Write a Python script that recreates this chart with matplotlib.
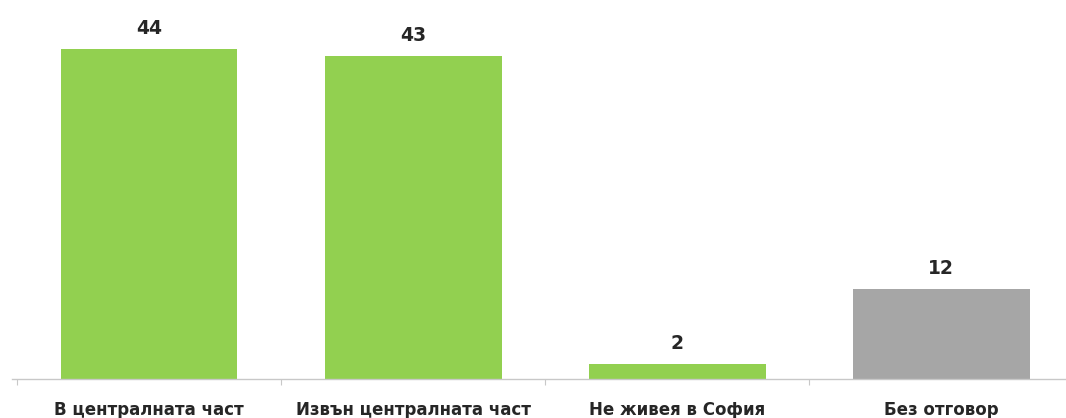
import matplotlib
matplotlib.use("Agg")
import matplotlib.pyplot as plt

categories = ["В централната част", "Извън централната част", "Не живея в София", "Без отговор"]
values = [44, 43, 2, 12]
colors = ["#92D050", "#92D050", "#92D050", "#A6A6A6"]

plt.rcParams['font.family'] = ['DejaVu Sans']

fig = plt.figure(figsize=(10.66, 4.18), dpi=100)
ax = fig.add_axes([12/1066, 39/418, (1066-12)/1066, 379/418])

x = list(range(len(categories)))
bars = ax.bar(x, values, width=0.67, color=colors, zorder=2)
for xi, v in zip(x, values):
    ax.text(xi, v + 1.5, str(v), ha="center", va="bottom", fontsize=13.5,
            fontweight="bold", color="#262626")

ax.set_xlim(-0.519, 3.473)
ax.set_ylim(0, 50.5)
for s in ["top", "right", "left"]:
    ax.spines[s].set_visible(False)
ax.spines["bottom"].set_color("#C8C8C8")
ax.spines["bottom"].set_linewidth(1)
ax.set_yticks([])
ax.set_xticks([-0.5, 0.5, 1.5, 2.5], minor=False)
ax.set_xticklabels([])
ax.tick_params(axis="x", which="major", length=4, color="#C8C8C8", direction="out")
ax.set_xticks(x, minor=True)
ax.set_xticklabels(categories, minor=True, fontsize=12, fontweight="bold", color="#262626")
ax.tick_params(axis="x", which="minor", length=0, pad=16)

fig.savefig("out.png", dpi=100)
